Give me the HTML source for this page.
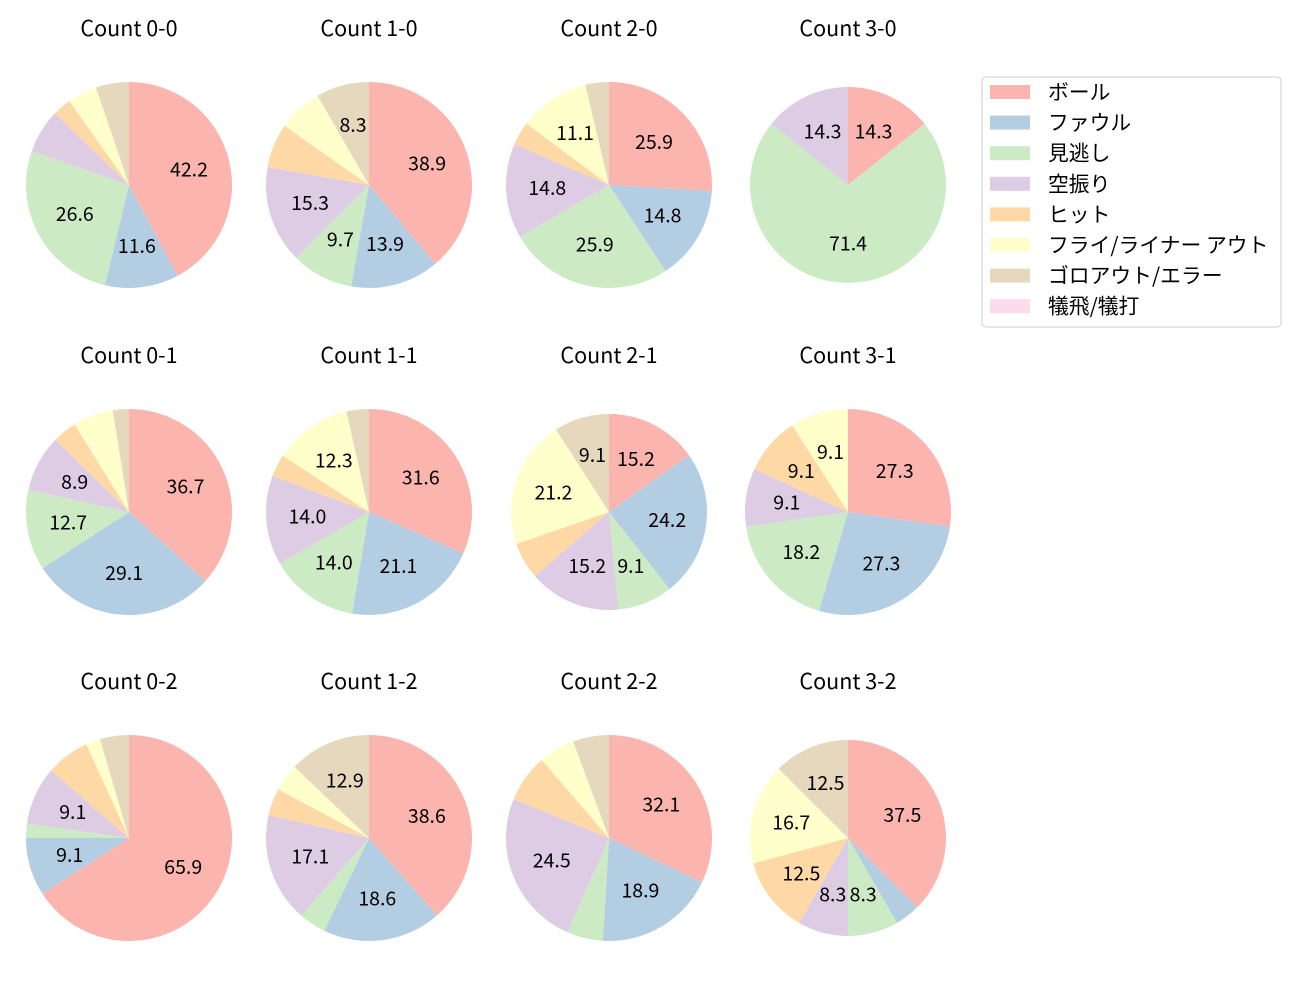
<!DOCTYPE html>
<html><head><meta charset="utf-8"><style>
body{margin:0;background:#fff;}
svg text{font-family:"Noto Sans CJK JP","Liberation Sans",sans-serif;}
</style></head><body>
<svg id="chart" width="1300" height="1000" xmlns="http://www.w3.org/2000/svg"></svg>
<script>
const categories = ["ボール","ファウル","見逃し","空振り","ヒット","フライ/ライナー アウト","ゴロアウト/エラー","犠飛/犠打"];
const colors = ["#fbb4ae","#b3cde3","#ccebc5","#decbe4","#fed9a6","#ffffcc","#e5d8bd","#fddaec"];
const titles = ["Count 0-0","Count 1-0","Count 2-0","Count 3-0","Count 0-1","Count 1-1","Count 2-1","Count 3-1","Count 0-2","Count 1-2","Count 2-2","Count 3-2"];
const c00 = [73,20,46,12,5,8,9,0];
const c10 = [28,10,7,11,5,5,6,0];
const c20 = [7,4,7,4,1,3,1,0];
const c30 = [1,0,5,1,0,0,0,0];
const c01 = [29,23,10,7,3,5,2,0];
const c11 = [18,12,8,8,2,7,2,0];
const c21 = [5,8,3,5,2,7,3,0];
const c31 = [3,3,2,1,1,1,0,0];
const c02 = [29,4,1,4,3,1,2,0];
const c12 = [27,13,3,12,3,3,9,0];
const c22 = [17,10,3,13,4,3,3,0];
const c32 = [9,1,2,2,3,4,3,0];
const series = [c00,c10,c20,c30,c01,c11,c21,c31,c02,c12,c22,c32];
const radii = [103,103,103,98,103,103,98,103,103,103,103,98];

const NS="http://www.w3.org/2000/svg";
const svg=document.getElementById('chart');
function mk(tag,attrs,parent){const e=document.createElementNS(NS,tag);for(const k in attrs)e.setAttribute(k,attrs[k]);(parent||svg).appendChild(e);return e;}
const colX=[129,369,609,848], rowY=[185,512,838];
series.forEach((vals,i)=>{
  const cx=colX[i%4], cy=rowY[Math.floor(i/4)], r=radii[i];
  const g=mk('g',{});
  
  
  const t=mk('text',{x:cx,y:cy-149,'text-anchor':'middle','font-size':'21.5'},g);
  t.textContent=titles[i];
  
  
  const total=vals.reduce((a,b)=>a+b,0);
  let ang=90;
  vals.forEach((v,j)=>{
    if(v<=0) return;
    const sweep=v/total*360;
    const a0=ang*Math.PI/180, a1=(ang-sweep)*Math.PI/180;
    let el;
    if(sweep>=359.999){
      el=mk('circle',{cx:cx,cy:cy,r:r,fill:colors[j]},g);
    } else {
      const x0=cx+r*Math.cos(a0), y0=cy-r*Math.sin(a0), x1=cx+r*Math.cos(a1), y1=cy-r*Math.sin(a1);
      el=mk('path',{d:`M${cx},${cy} L${x0},${y0} A${r},${r} 0 ${sweep>180?1:0} 1 ${x1},${y1} Z`,fill:colors[j]},g);
    }
    
    
    const pct=v/total*100;
    if(pct>=8){
      const mid=(ang-sweep/2)*Math.PI/180;
      const lt=mk('text',{x:cx+0.6*r*Math.cos(mid),y:cy-0.6*r*Math.sin(mid)+6.5,'text-anchor':'middle','font-size':'19.5'},g);
      lt.textContent=pct.toFixed(1);
      
      
    }
    ang-=sweep;
  });
});
const lg=mk('g',{});


mk('rect',{x:982,y:77,width:299,height:250,rx:4,fill:'#fff',stroke:'#ccc'},lg);
categories.forEach((c,j)=>{
  const y=92+j*30.6;
  const sw=mk('rect',{x:990,y:y-7,width:40,height:14,fill:colors[j]},lg);
  
  
  const tx=mk('text',{x:1048,y:y+7.5,'font-size':'20.8'},lg);
  tx.textContent=c;
  
  
});
</script>
</body></html>
